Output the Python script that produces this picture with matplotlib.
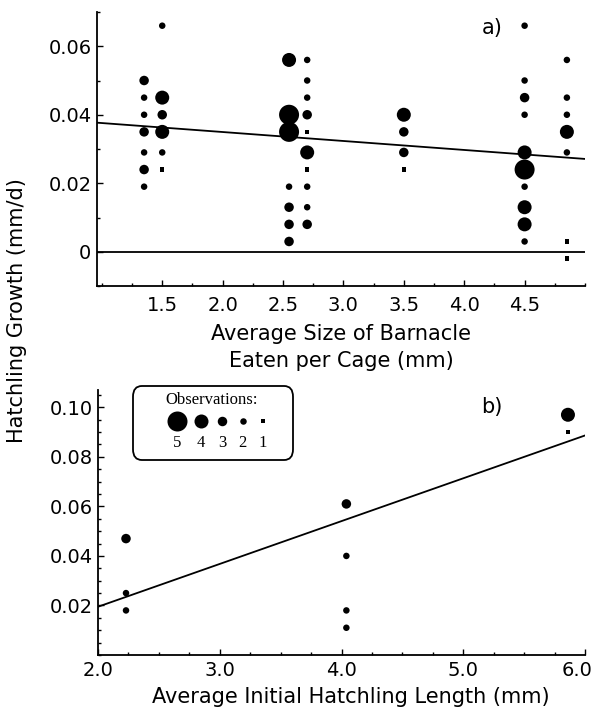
import numpy as np
import matplotlib
matplotlib.use("Agg")
import matplotlib.pyplot as plt
import matplotlib.transforms as mtransforms
from matplotlib.patches import FancyBboxPatch
from matplotlib.ticker import MultipleLocator, FixedLocator, FuncFormatter

plt.rcParams['font.family'] = ['DejaVu Sans']

# ---------------- Panel a data ----------------
a_size = ([1.35] * 7 + [1.5] * 6 + [2.55] * 7 + [2.7] * 10 + [3.5] * 4
          + [4.5] * 10 + [4.85] * 7)
a_growth = [0.050, 0.045, 0.040, 0.035, 0.029, 0.024, 0.019,
            0.066, 0.045, 0.040, 0.035, 0.029, 0.024,
            0.056, 0.040, 0.035, 0.019, 0.013, 0.008, 0.003,
            0.056, 0.050, 0.045, 0.040, 0.035, 0.029, 0.024, 0.019, 0.013, 0.008,
            0.040, 0.035, 0.029, 0.024,
            0.066, 0.050, 0.045, 0.040, 0.029, 0.024, 0.019, 0.013, 0.008, 0.003,
            0.056, 0.045, 0.040, 0.035, 0.029, 0.003, -0.002]
a_obs = [3, 2, 2, 3, 2, 3, 2,
         2, 4, 3, 4, 2, 1,
         4, 5, 5, 2, 3, 3, 3,
         2, 2, 2, 3, 1, 4, 1, 2, 2, 3,
         4, 3, 3, 1,
         2, 2, 3, 2, 4, 5, 2, 4, 4, 2,
         2, 2, 2, 4, 2, 1, 1]
a_fit = (0.0402, -0.00262)          # intercept, slope
a_xticks = [1.5, 2.0, 2.5, 3.0, 3.5, 4.0, 4.5]
a_yticks = [0.0, 0.02, 0.04, 0.06]

# ---------------- Panel b data ----------------
b_length = [2.23, 2.23, 2.23, 4.04, 4.04, 4.04, 4.04, 5.86, 5.86]
b_growth = [0.047, 0.025, 0.018, 0.061, 0.040, 0.018, 0.011, 0.097, 0.090]
b_obs = [3, 2, 2, 3, 2, 2, 2, 4, 1]
b_fit = (-0.0151, 0.01729)
b_xticks = [2.0, 3.0, 4.0, 5.0, 6.0]
b_yticks = [0.02, 0.04, 0.06, 0.08, 0.10]

legend_counts = [5, 4, 3, 2, 1]

# marker diameter (px) per number of observations
diam_px = {1: 4.5, 2: 6.5, 3: 9.5, 4: 14.0, 5: 20.0}


def s_of(n):
    return (diam_px[n] * 0.72) ** 2


W, H = 591, 711
fig = plt.figure(figsize=(W / 100, H / 100), dpi=100)


def rect(l, r, t, b):
    return [l / W, 1 - b / H, (r - l) / W, (b - t) / H]


def fx(x):
    return x / W


def fy(y):
    return 1 - y / H


TICK_FS = 14
LAB_FS = 15


def style(ax):
    for s in ['top', 'right']:
        ax.spines[s].set_visible(False)
    for s in ['left', 'bottom']:
        ax.spines[s].set_linewidth(1.3)
    ax.tick_params(which='both', direction='in', width=1.0, labelsize=TICK_FS)
    ax.tick_params(which='major', length=4)
    ax.tick_params(which='minor', length=2.5)
    ax.tick_params(axis='y', pad=4)
    ax.tick_params(axis='x', pad=7)


def scatter_obs(ax, xs, ys, ns):
    xs = np.asarray(xs); ys = np.asarray(ys); ns = np.asarray(ns)
    sq = ns == 1
    ax.scatter(xs[sq], ys[sq], s=[s_of(n) for n in ns[sq]], marker='s',
               color='black', linewidths=0, zorder=3, clip_on=False)
    ax.scatter(xs[~sq], ys[~sq], s=[s_of(n) for n in ns[~sq]], marker='o',
               color='black', linewidths=0, zorder=3, clip_on=False)


# ---------------- Panel a ----------------
ax1 = fig.add_axes(rect(97, 585, 12, 286))
style(ax1)
ax1.set_xlim(0.96, 5.0)
ax1.set_ylim(-0.01, 0.07)
scatter_obs(ax1, a_size, a_growth, a_obs)
xl = np.array(ax1.get_xlim())
ax1.plot(xl, a_fit[0] + a_fit[1] * xl, color='black', lw=1.3, zorder=2)
ax1.axhline(0, color='black', lw=1.3, zorder=2)
ax1.xaxis.set_major_locator(FixedLocator(a_xticks))
ax1.xaxis.set_minor_locator(MultipleLocator(0.25))
ax1.set_xticklabels([f"{v:.1f}" for v in a_xticks])
ax1.yaxis.set_major_locator(FixedLocator(a_yticks))
ax1.yaxis.set_minor_locator(MultipleLocator(0.01))
ax1.yaxis.set_major_formatter(FuncFormatter(lambda v, p: "0" if abs(v) < 1e-9 else f"{v:.2f}"))
fig.text(fx(492), fy(28), "a)", fontsize=LAB_FS, ha='center', va='center')

fig.text(fx(341), fy(334), "Average Size of Barnacle", fontsize=LAB_FS,
         ha='center', va='center')
fig.text(fx(341), fy(361), "Eaten per Cage (mm)", fontsize=LAB_FS,
         ha='center', va='center')

# ---------------- Panel b ----------------
ax2 = fig.add_axes(rect(98, 585, 390, 655))
style(ax2)
ax2.set_xlim(2.0, 6.0)
ax2.set_ylim(0.0, 0.107)
scatter_obs(ax2, b_length, b_growth, b_obs)
xl2 = np.array(ax2.get_xlim())
ax2.plot(xl2, b_fit[0] + b_fit[1] * xl2, color='black', lw=1.3, zorder=2)
ax2.xaxis.set_major_locator(FixedLocator(b_xticks))
ax2.xaxis.set_minor_locator(MultipleLocator(0.25))
ax2.set_xticklabels([f"{v:.1f}" for v in b_xticks])
ax2.yaxis.set_major_locator(FixedLocator(b_yticks))
ax2.yaxis.set_minor_locator(MultipleLocator(0.005))
ax2.yaxis.set_major_formatter(FuncFormatter(lambda v, p: f"{v:.2f}"))
ax2.tick_params(axis='x', pad=4)
# keep the last tick label ("6.0") inside the figure, as in the reference
last = ax2.get_xticklabels()[-1]
last.set_transform(last.get_transform() +
                   mtransforms.ScaledTranslation(-8 / 100, 0, fig.dpi_scale_trans))
fig.text(fx(492), fy(407), "b)", fontsize=LAB_FS, ha='center', va='center')

fig.text(fx(351), fy(697), "Average Initial Hatchling Length (mm)",
         fontsize=LAB_FS, ha='center', va='center')

# y label spanning both panels
fig.text(fx(17), fy(311), "Hatchling Growth (mm/d)", fontsize=LAB_FS,
         rotation=90, ha='center', va='center')

# ---------------- Legend box ----------------
bx0, bx1, by0, by1 = 133, 293, 386, 460
box = FancyBboxPatch((fx(bx0), fy(by1)), fx(bx1) - fx(bx0), fy(by0) - fy(by1),
                     boxstyle="round,pad=0,rounding_size=0.015",
                     transform=fig.transFigure, facecolor='white',
                     edgecolor='black', lw=1.3, zorder=5)
fig.patches.append(box)
fig.text(fx(212), fy(400), "Observations:", fontsize=12,
         family=['Liberation Serif', 'DejaVu Serif'], ha='center', va='center',
         zorder=6)
leg_x = [176.7, 200.7, 222.3, 242.7, 262.7]
for px, n in zip(leg_x, legend_counts):
    fig.add_artist(plt.Line2D([fx(px)], [fy(420.5)], transform=fig.transFigure,
                              marker='s' if n == 1 else 'o', ls='none',
                              markersize=diam_px[n] * 0.72,
                              markerfacecolor='black', markeredgewidth=0,
                              zorder=7))
    fig.text(fx(px), fy(443), str(n), fontsize=12,
             family=['Liberation Serif', 'DejaVu Serif'], ha='center',
             va='center', zorder=7)

fig.savefig("out.png", dpi=100, facecolor='white')
